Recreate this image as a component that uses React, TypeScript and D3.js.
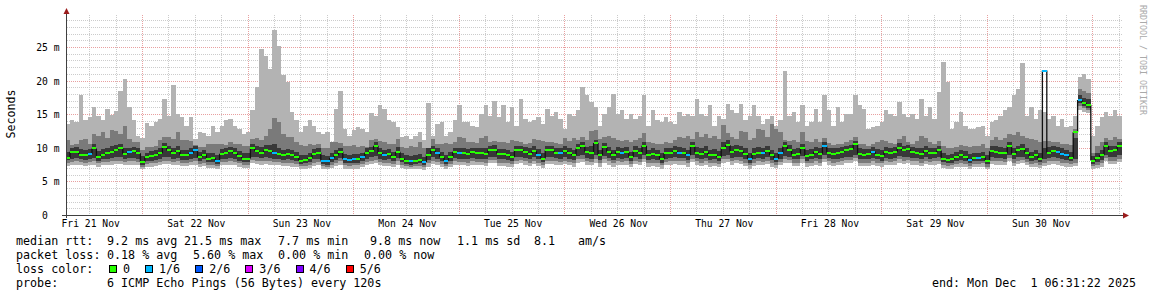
import React from "react";
import * as d3 from "d3";

// ---- time frame ----
const END_TIME = Date.UTC(2025, 11, 1, 6, 31, 22);
const HOURS = 240;
const START_TIME = END_TIME - HOURS * 3600 * 1000;

// ---- axis labels ----
const dayLabels = ["Fri 21 Nov", "Sat 22 Nov", "Sun 23 Nov", "Mon 24 Nov", "Tue 25 Nov", "Wed 26 Nov", "Thu 27 Nov", "Fri 28 Nov", "Sat 29 Nov", "Sun 30 Nov"];
const yTicks = [0, 5, 10, 15, 20, 25];
const yTickLabels = ["0\u00a0\u00a0", "5 m", "10 m", "15 m", "20 m", "25 m"];

// ---- hourly smoke (ms): 6 sorted pings p1..p6 ----
const maxRtt = [
  13.5,14.1,13.8,17.8,14.1,14.6,16.0,14.7,14.2,15.8,14.9,15.5,18.4,20.2,16.0,14.1,11.8,11.5,13.7,13.3,13.8,14.3,17.2,14.8,19.4,15.1,14.6,13.3,14.6,11.3,12.3,12.2,11.8,13.3,12.3,
  13.3,14.2,14.3,13.3,12.8,12.1,12.3,15.6,19.0,24.7,23.7,21.8,27.5,25.2,20.8,19.8,15.3,14.1,12.3,13.3,14.1,13.3,12.3,12.1,12.3,10.8,15.8,18.5,12.8,11.8,12.6,13.1,12.8,12.3,
  15.2,14.8,16.3,15.8,14.1,13.8,13.1,11.6,11.8,11.3,11.8,12.3,11.1,16.7,11.8,13.6,13.8,11.8,12.3,14.1,16.3,13.8,13.8,13.3,13.1,15.1,16.4,14.8,17.0,14.6,16.3,13.8,16.1,13.3,
  17.2,14.3,13.8,14.1,14.6,13.6,15.8,14.8,15.3,14.3,12.8,15.1,14.8,15.6,19.0,17.8,16.8,16.1,13.3,15.1,16.1,18.0,15.1,15.6,14.3,15.1,14.3,14.8,17.9,13.3,15.6,14.1,13.8,14.6,13.8,
  13.6,15.3,14.8,15.1,14.8,17.3,15.1,14.8,16.3,13.3,14.8,14.3,16.5,15.6,15.2,16.5,14.1,14.8,16.4,14.8,13.6,14.3,14.8,13.3,14.1,21.4,14.8,15.3,13.8,16.3,13.3,13.8,15.8,13.8,
  17.8,15.6,13.3,16.1,13.8,15.1,15.1,17.8,16.3,15.8,12.8,13.1,13.3,13.8,15.6,15.1,14.8,16.8,15.1,14.6,15.1,14.3,17.2,14.8,16.1,14.3,18.3,22.7,19.8,12.8,13.8,15.4,13.3,12.8,
  12.8,13.1,13.3,11.8,13.8,14.1,14.8,15.6,16.1,17.8,18.8,22.6,14.8,16.1,14.3,15.6,15.3,14.3,14.8,13.3,14.3,13.1,13.3,14.8,20.5,21.0,20.3,11.8,13.3,14.6,15.3,14.8,15.6,14.8,
];
const upperRtt = [
  11.1,10.4,10.5,11.1,11.3,10.6,12.1,11.8,12.4,11.4,12.6,12.5,12.1,13.3,11.3,10.8,10.8,9.6,10.1,10.1,10.2,11.1,11.6,11.6,11.3,12.3,11.1,11.1,11.0,10.4,10.1,10.1,10.6,10.6,10.6,
  10.6,10.4,10.8,10.5,10.6,10.3,10.2,11.3,11.4,11.1,11.8,12.8,14.5,13.8,12.0,11.6,11.6,10.8,10.4,10.3,10.5,10.4,10.6,10.0,9.9,10.8,10.9,10.7,10.3,10.2,10.4,10.1,10.2,10.1,
  11.1,11.3,11.0,10.9,10.6,10.5,11.3,10.1,10.0,10.2,10.1,10.9,9.9,10.0,11.3,10.6,10.5,10.7,10.6,10.8,11.6,11.4,10.8,10.9,10.7,11.5,11.7,10.9,11.0,10.8,10.9,10.7,11.1,11.0,
  10.9,10.6,10.7,11.3,11.2,11.0,10.8,10.9,10.7,10.6,11.4,11.0,11.5,11.2,11.6,11.1,12.5,12.6,11.3,11.6,11.8,11.4,11.1,11.0,11.2,10.9,11.1,11.5,12.2,10.8,10.7,10.5,10.6,10.8,10.7,
  11.1,11.6,11.5,11.7,11.3,12.3,11.6,12.0,11.4,11.8,11.3,13.4,12.2,11.6,11.3,12.5,12.4,11.2,11.5,12.8,12.6,11.6,13.5,12.8,12.3,11.2,11.0,11.2,10.9,12.3,11.0,10.8,11.3,10.9,
  11.4,10.7,10.4,10.6,10.5,10.9,11.2,11.6,10.6,10.5,10.3,10.6,10.9,11.2,11.0,10.7,10.6,11.3,11.8,10.9,10.6,11.0,11.7,11.5,10.8,10.6,11.0,10.2,10.0,9.9,10.1,10.4,10.2,10.1,
  10.3,10.2,10.6,10.0,11.2,11.6,11.1,11.5,12.0,11.9,12.3,11.8,11.5,11.3,11.1,10.9,11.0,11.0,10.8,10.9,10.6,10.5,10.4,12.8,18.8,18.4,18.1,9.2,10.2,10.9,11.4,11.2,11.6,11.3,
];
const highRtt = [
  9.4,10.0,10.1,9.8,9.6,9.8,10.6,9.5,9.8,9.9,10.2,10.4,10.6,9.9,10.0,10.1,9.9,8.8,9.3,9.5,9.6,9.9,10.7,10.3,10.0,10.3,9.7,9.6,9.9,10.2,9.4,9.7,9.2,9.3,9.0,
  9.8,10.0,10.1,9.9,9.5,9.2,9.2,10.5,10.3,10.1,10.4,10.4,10.6,10.0,9.7,9.8,9.6,9.4,8.9,9.0,9.2,9.8,10.0,8.9,8.8,9.3,9.6,10.0,9.1,9.0,9.1,9.1,9.3,10.0,
  10.1,10.8,10.0,9.6,9.8,9.4,10.1,9.2,8.9,8.8,8.9,9.1,8.7,9.9,10.3,9.9,9.4,8.9,9.4,10.0,9.9,10.0,9.8,10.0,10.0,9.9,9.9,10.3,10.4,9.8,9.8,9.6,9.4,10.3,
  10.3,10.1,9.9,10.2,9.8,9.3,10.3,10.3,10.0,10.0,10.2,10.0,9.7,10.6,10.9,10.1,10.2,11.2,9.7,10.7,10.1,9.7,10.1,10.0,10.1,9.4,10.2,10.0,10.9,9.7,9.9,9.7,9.2,9.9,10.0,
  10.2,10.1,10.0,9.7,10.8,10.1,9.9,10.2,9.7,9.8,9.5,10.8,11.1,10.2,10.4,10.3,9.9,9.2,9.9,10.1,10.0,10.2,9.7,9.3,10.0,10.8,10.4,9.8,9.9,10.6,9.6,9.8,10.1,9.9,
  10.8,10.0,9.9,9.9,10.1,10.3,10.4,11.0,9.9,9.8,9.8,10.1,9.8,9.6,10.1,9.9,10.1,10.7,10.3,10.4,10.1,10.0,9.9,10.2,9.9,10.0,10.2,9.2,9.0,9.1,9.4,9.6,9.5,9.1,
  9.3,9.3,9.4,8.9,10.2,10.2,10.1,10.0,10.9,9.9,10.3,10.5,10.0,9.4,9.7,9.3,10.0,10.1,10.2,10.1,9.9,9.7,9.4,11.4,17.8,17.4,17.2,8.8,9.3,9.7,10.8,10.2,10.3,10.8,
];
const lowRtt = [
  8.2,8.4,8.5,8.3,8.2,8.3,8.5,8.1,8.3,8.4,8.5,8.6,8.6,8.4,8.5,8.5,8.3,7.5,8.0,8.1,8.2,8.4,8.7,8.6,8.4,8.5,8.2,8.2,8.4,8.5,8.0,8.3,7.9,7.9,7.6,
  8.3,8.4,8.5,8.4,8.1,7.9,7.9,8.7,8.6,8.5,8.6,8.5,8.4,8.3,8.2,8.3,8.2,8.0,7.6,7.7,7.9,8.3,8.4,7.6,7.5,7.9,8.2,8.5,7.8,7.7,7.8,7.8,8.0,8.4,
  8.6,8.8,8.4,8.2,8.3,8.0,8.5,7.9,7.6,7.5,7.6,7.7,7.4,8.2,8.6,8.4,8.0,7.6,8.0,8.5,8.4,8.4,8.3,8.5,8.4,8.4,8.3,8.7,8.7,8.3,8.3,8.2,8.0,8.6,
  8.7,8.5,8.3,8.6,8.3,7.9,8.6,8.6,8.5,8.4,8.6,8.4,8.2,8.8,8.9,8.5,8.4,8.9,8.2,8.8,8.5,8.2,8.5,8.4,8.5,8.0,8.6,8.4,8.9,8.2,8.3,8.2,7.8,8.4,8.5,
  8.6,8.5,8.5,8.2,8.9,8.5,8.3,8.5,8.2,8.3,8.0,8.8,8.9,8.5,8.7,8.6,8.3,7.8,8.3,8.5,8.4,8.6,8.2,7.9,8.4,8.8,8.7,8.3,8.3,8.8,8.1,8.3,8.5,8.3,
  8.9,8.5,8.3,8.4,8.5,8.7,8.7,9.0,8.3,8.3,8.3,8.5,8.3,8.1,8.5,8.4,8.5,8.8,8.6,8.7,8.5,8.5,8.3,8.6,8.4,8.5,8.6,7.9,7.7,7.8,8.0,8.2,8.1,7.7,
  8.0,8.0,8.1,7.6,8.6,8.5,8.5,8.4,9.0,8.3,8.6,8.7,8.4,8.0,8.2,7.9,8.3,8.5,8.6,8.5,8.3,8.2,8.0,8.3,16.6,16.2,15.9,7.6,7.9,8.2,9.0,8.6,8.6,8.9,
];
const lowerRtt = [
  7.8,7.9,8.0,7.9,7.8,7.9,8.0,7.7,7.9,7.9,8.0,8.1,8.1,7.9,8.0,8.0,7.9,7.2,7.6,7.7,7.8,7.9,8.1,8.1,7.9,8.0,7.8,7.8,7.9,8.0,7.6,7.8,7.5,7.5,7.3,
  7.9,7.9,8.0,7.9,7.7,7.5,7.5,8.2,8.1,8.0,8.1,8.0,7.9,7.9,7.8,7.8,7.7,7.6,7.3,7.3,7.5,7.8,7.9,7.3,7.2,7.5,7.8,8.0,7.4,7.3,7.4,7.4,7.6,7.9,
  8.1,8.2,7.9,7.8,7.8,7.6,8.0,7.5,7.3,7.2,7.3,7.3,7.1,7.7,8.1,7.9,7.6,7.3,7.6,8.0,7.9,7.9,7.8,8.0,7.9,7.9,7.8,8.2,8.2,7.8,7.8,7.7,7.6,8.1,
  8.2,8.0,7.8,8.1,7.8,7.5,8.1,8.1,8.0,7.9,8.1,7.9,7.7,8.3,8.4,8.0,7.9,8.3,7.7,8.3,8.0,7.7,8.0,7.9,8.0,7.6,8.1,7.9,8.4,7.7,7.8,7.7,7.4,7.9,8.0,
  8.1,8.0,8.0,7.7,8.4,8.0,7.8,8.0,7.7,7.8,7.6,8.3,8.4,8.0,8.2,8.1,7.8,7.4,7.8,8.0,7.9,8.1,7.7,7.5,7.9,8.3,8.2,7.8,7.8,8.3,7.7,7.8,8.0,7.8,
  8.4,8.0,7.8,7.9,8.0,8.2,8.2,8.5,7.8,7.8,7.8,8.0,7.8,7.7,8.0,7.9,8.0,8.3,8.1,8.2,8.0,8.0,7.8,8.1,7.9,8.0,8.1,7.5,7.3,7.4,7.6,7.7,7.6,7.3,
  7.6,7.6,7.7,7.2,8.1,8.0,8.0,7.9,8.5,7.8,8.1,8.2,7.9,7.6,7.7,7.5,7.8,8.0,8.1,8.0,7.8,7.7,7.6,7.8,16.2,15.9,15.6,7.3,7.5,7.7,8.5,8.1,8.1,8.4,
];
const minRtt = [
  7.3,7.4,7.5,7.4,7.3,7.4,7.5,7.2,7.4,7.4,7.5,7.6,7.6,7.4,7.5,7.5,7.4,6.8,7.1,7.2,7.3,7.4,7.6,7.6,7.4,7.5,7.3,7.3,7.4,7.5,7.1,7.3,7.0,7.0,6.9,
  7.4,7.4,7.5,7.4,7.2,7.0,7.0,7.7,7.6,7.5,7.6,7.5,7.4,7.4,7.3,7.3,7.2,7.1,6.9,6.9,7.0,7.3,7.4,6.9,6.8,7.0,7.3,7.5,6.9,6.9,6.9,6.9,7.1,7.4,
  7.6,7.7,7.4,7.3,7.3,7.1,7.5,7.0,6.9,6.8,6.9,6.9,6.7,7.2,7.6,7.4,7.1,6.9,7.1,7.5,7.4,7.4,7.3,7.5,7.4,7.4,7.3,7.7,7.7,7.3,7.3,7.2,7.1,7.6,
  7.7,7.5,7.3,7.6,7.3,7.0,7.6,7.6,7.5,7.4,7.6,7.4,7.2,7.8,7.9,7.5,7.4,7.8,7.2,7.8,7.5,7.2,7.5,7.4,7.5,7.1,7.6,7.4,7.9,7.2,7.3,7.2,6.9,7.4,7.5,
  7.6,7.5,7.5,7.2,7.9,7.5,7.3,7.5,7.2,7.3,7.1,7.8,7.9,7.5,7.7,7.6,7.3,6.9,7.3,7.5,7.4,7.6,7.2,7.0,7.4,7.8,7.7,7.3,7.3,7.8,7.2,7.3,7.5,7.3,
  7.9,7.5,7.3,7.4,7.5,7.7,7.7,8.0,7.3,7.3,7.3,7.5,7.3,7.2,7.5,7.4,7.5,7.8,7.6,7.7,7.5,7.5,7.3,7.6,7.4,7.5,7.6,7.0,6.9,6.9,7.1,7.2,7.1,6.9,
  7.1,7.1,7.2,6.8,7.6,7.5,7.5,7.4,8.0,7.3,7.6,7.7,7.4,7.1,7.2,7.0,7.3,7.5,7.6,7.5,7.3,7.2,7.1,7.3,15.6,15.4,15.2,6.9,7.0,7.2,8.0,7.6,7.6,7.9,
];
const medianRtt = [
  8.5,9.4,9.4,9.0,8.9,9.1,9.9,8.6,9.0,9.2,9.4,9.7,9.9,9.1,9.4,9.5,9.2,7.9,8.6,8.8,8.9,9.2,10.1,9.6,9.2,9.5,8.9,8.9,9.2,9.6,8.6,9.0,8.4,8.5,8.1,
  9.1,9.3,9.5,9.2,8.8,8.4,8.4,9.9,9.5,9.3,9.6,9.5,9.2,9.1,8.9,9.1,8.9,8.7,8.1,8.2,8.5,9.1,9.3,8.1,8.0,8.5,8.9,9.4,8.3,8.2,8.4,8.3,8.6,9.3,
  9.5,10.3,9.2,8.9,9.1,8.6,9.4,8.4,8.1,8.0,8.1,8.2,7.9,9.0,9.6,9.2,8.6,8.1,8.6,9.4,9.2,9.3,9.1,9.4,9.3,9.2,9.1,9.7,9.7,9.1,9.1,8.9,8.6,9.6,
  9.7,9.4,9.1,9.5,9.0,8.4,9.6,9.6,9.3,9.2,9.5,9.2,8.9,9.9,10.2,9.4,9.2,10.7,8.9,10.1,9.4,8.9,9.4,9.3,9.4,8.6,9.5,9.3,10.3,8.9,9.1,8.9,8.3,9.2,9.3,
  9.5,9.3,9.3,8.9,10.2,9.3,9.1,9.4,8.9,9.0,8.6,10.0,10.4,9.4,9.7,9.5,9.1,8.3,9.1,9.3,9.2,9.5,8.9,8.4,9.2,10.2,9.7,9.0,9.1,9.9,8.8,9.0,9.4,9.1,
  10.2,9.3,9.1,9.2,9.4,9.7,9.8,10.5,9.1,9.0,9.1,9.4,9.0,8.8,9.4,9.2,9.4,10.0,9.6,9.8,9.4,9.3,9.1,9.5,9.2,9.3,9.6,8.4,8.2,8.3,8.6,8.9,8.7,8.2,
  8.5,8.5,8.6,8.1,9.5,9.4,9.3,9.2,10.3,9.1,9.6,9.8,9.2,8.6,8.9,8.4,21.5,9.3,9.5,9.4,9.1,8.9,8.5,12.3,17.1,16.7,16.4,8.1,8.5,8.9,10.3,9.5,9.6,10.2,
];
// hours (bin index) where 1 of 6 pings was lost
const lossOneSixthHours = [5, 14, 28, 29, 34, 47, 58, 59, 60, 63, 64, 65, 67, 72, 78, 81, 84, 86, 89, 107, 112, 126, 139, 141, 155, 158, 161, 162, 172, 183, 205, 207, 222, 225, 226, 227, 230];

// ---- legend ----
const lossLabels = ["0", "1/6", "2/6", "3/6", "4/6", "5/6"];
const lossColors = ["#26ff00", "#00b8ff", "#0059ff", "#dd00ff", "#7e00ff", "#ff0000"];
const medianStats = ["9.2 ms avg", "21.5 ms max", "7.7 ms min", "9.8 ms now", "1.1 ms sd", "8.1", "am/s"];
const lossStats = ["0.18 % avg", "5.60 % max", "0.00 % min", "0.00 % now"];
const probeText = "6 ICMP Echo Pings (56 Bytes) every 120s";
const endText = "end: Mon Dec\u00a0\u00a01 06:31:22 2025";

const MONO = "'DejaVu Sans Mono', monospace";

export default function App() {
  const W = 1152, H = 297;
  const x = d3.scaleUtc().domain([new Date(START_TIME), new Date(END_TIME)]).range([65.6, 1121.6]);
  const y = d3.scaleLinear().domain([0, 30]).range([215, 13.4]);
  const times = d3.range(HOURS + 1).map((i) => new Date(START_TIME + i * 3600 * 1000));
  const idx = d3.range(HOURS + 1);
  const at = (arr: number[], i: number) => arr[Math.min(i, HOURS - 1)];

  const band = (lo: number[], hi: number[]) =>
    d3.area<number>()
      .x((i) => x(times[i]))
      .y0((i) => y(at(lo, i)))
      .y1((i) => y(at(hi, i)))
      .curve(d3.curveStepAfter)(idx) || "";

  const lossSet = new Set(lossOneSixthHours);
  const connectors = d3.range(1, HOURS)
    .map((i) => `M${x(times[i])},${y(medianRtt[i - 1])}V${y(medianRtt[i])}`)
    .join("");
  const segPaths: Record<string, string> = {};
  medianRtt.forEach((m, i) => {
    const c = lossSet.has(i) ? lossColors[1] : lossColors[0];
    const yy = Math.round(y(m));
    segPaths[c] = (segPaths[c] || "") + `M${x(times[i])},${yy}H${x(times[i + 1])}`;
  });

  const left = 66.5, right = 1122, top = 15, base = 215.5;
  const gy = (v: number) => Math.round(y(v)) + 0.5;
  const gx = (d: Date) => Math.floor(x(d)) + 0.5;
  const minorH = d3.range(1, 30).filter((v) => v % 5 !== 0);
  const majorH = [5, 10, 15, 20, 25];
  const start = new Date(START_TIME), end = new Date(END_TIME);
  const dayTicks = d3.utcDay.range(d3.utcDay.ceil(start), end);
  const sixHour = (d3.utcHour.every(6) as d3.CountableTimeInterval).range(start, end).filter((d) => d.getUTCHours() !== 0);
  const noon = (k: number) => new Date(Date.UTC(2025, 10, 21 + k, 12));

  const boxes: { bx: number; label: string; color: string }[] = [];
  let bx = 109;
  lossLabels.forEach((label, k) => {
    boxes.push({ bx, label, color: lossColors[k] });
    bx += 14 + label.length * 7.05 + 15;
  });

  const medX = [107, 184, 278, 370, 457, 534, 578];
  const lossX = [107, 193, 278, 364];
  const rows = [245, 259, 273, 287];

  return (
    <svg width={W} height={H} viewBox={`0 0 ${W} ${H}`} style={{ position: "absolute", left: 0, top: 0, background: "#fff" }}>
      <rect x={0} y={0} width={W} height={H} fill="#ffffff" />
      {/* grid */}
      <g strokeWidth={1} strokeDasharray="1,1" shapeRendering="crispEdges">
        {minorH.map((v) => (
          <line key={"mh" + v} x1={left} x2={right} y1={gy(v)} y2={gy(v)} stroke="#cccccc" />
        ))}
        {sixHour.map((d) => (
          <line key={"mv" + d.getTime()} x1={gx(d)} x2={gx(d)} y1={top} y2={base} stroke="#cccccc" />
        ))}
        {majorH.map((v) => (
          <line key={"Mh" + v} x1={left} x2={right} y1={gy(v)} y2={gy(v)} stroke="#e8a0a0" />
        ))}
        {dayTicks.map((d) => (
          <line key={"Mv" + d.getTime()} x1={gx(d)} x2={gx(d)} y1={top} y2={base} stroke="#e8a0a0" />
        ))}
      </g>
      {/* smoke */}
      <g shapeRendering="crispEdges">
        <path d={band(minRtt, maxRtt)} fill="#b3b3b3" />
        <path d={band(lowerRtt, upperRtt)} fill="#7a7a7a" />
        <path d={band(lowRtt, highRtt)} fill="#383838" />
      </g>
      {/* median */}
      <path d={connectors} fill="none" stroke="#111111" strokeWidth={1.3} />
      {Object.entries(segPaths).map(([c, d]) => (
        <path key={c} d={d} fill="none" stroke={c} strokeWidth={2} shapeRendering="crispEdges" />
      ))}
      {/* axes */}
      <g shapeRendering="crispEdges" stroke="#404040" strokeWidth={1}>
        <line x1={left} x2={left} y1={218} y2={11} />
        <line x1={62} x2={1124} y1={base} y2={base} />
      </g>
      <path d={`M${left - 3},14L${left + 3},14L${left},8Z`} fill="#9b1c1c" />
      <path d={`M1123,212.5L1123,218.5L1129,215.5Z`} fill="#9b1c1c" />
      {/* axis labels */}
      <g fontFamily={MONO} fontSize={9.7} fill="#000">
        {yTicks.map((v, k) => (
          <text key={"yl" + v} x={59.5} y={Math.round(y(v)) + 3.5} textAnchor="end">
            {yTickLabels[k]}
          </text>
        ))}
        {dayLabels.map((lab, k) => (
          <text key={lab} x={x(noon(k)) + 1} y={227} textAnchor="middle">
            {lab}
          </text>
        ))}
      </g>
      <text x={0} y={0} transform="translate(15,114) rotate(-90)" textAnchor="middle" fontFamily={MONO} fontSize={11.6} fill="#000">
        Seconds
      </text>
      <text x={0} y={0} transform="translate(1140,5) rotate(90)" textAnchor="start" fontFamily={MONO} fontSize={8.3} fill="#aaaaaa">
        RRDTOOL / TOBI OETIKER
      </text>
      {/* legend */}
      <g fontFamily={MONO} fontSize={11.7} fill="#000">
        <text x={16} y={rows[0]}>median rtt:</text>
        {medianStats.map((s, k) => (
          <text key={"ms" + k} x={medX[k]} y={rows[0]}>{s}</text>
        ))}
        <text x={16} y={rows[1]}>packet loss:</text>
        {lossStats.map((s, k) => (
          <text key={"ls" + k} x={lossX[k]} y={rows[1]}>{s}</text>
        ))}
        <text x={16} y={rows[2]}>loss color:</text>
        {boxes.map((b) => (
          <g key={"b" + b.label}>
            <rect x={Math.round(b.bx) + 0.5} y={265.5} width={7} height={7} fill={b.color} stroke="#000" strokeWidth={1} shapeRendering="crispEdges" />
            <text x={b.bx + 14} y={rows[2]}>{b.label}</text>
          </g>
        ))}
        <text x={16} y={rows[3]}>probe:</text>
        <text x={107} y={rows[3]}>{probeText}</text>
        <text x={1136} y={rows[3]} textAnchor="end">{endText}</text>
      </g>
    </svg>
  );
}
